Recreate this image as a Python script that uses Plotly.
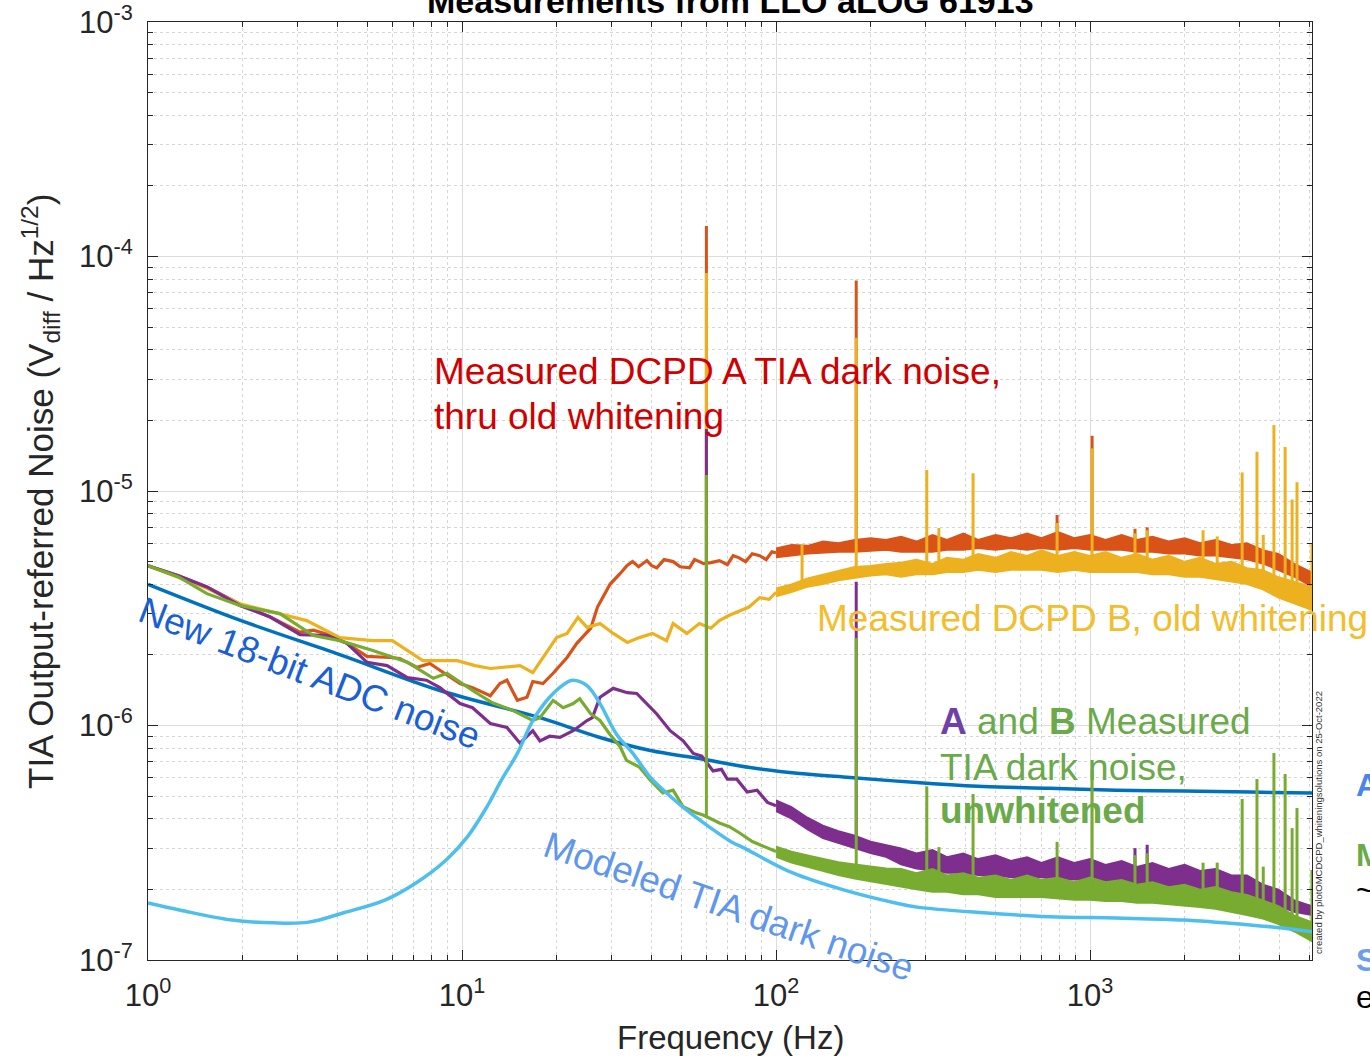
import math
import plotly.graph_objects as go

# ---------------- data (frequency in Hz, amplitude in uV/rtHz) ----------------
adc_f = [1.0, 1.98, 4.1, 8.5, 17.7, 27.5, 39.8, 57.0, 82.6, 119.0, 172.0, 281.0, 457.0, 744.0, 1210.0, 1990.0, 3240.0, 5090.0]
adc_uV = [4.0, 2.8, 2.0, 1.41, 1.08, 0.889, 0.782, 0.723, 0.662, 0.624, 0.60, 0.571, 0.549, 0.54, 0.53, 0.525, 0.52, 0.515]

model_f = [1.0, 1.27, 1.85, 2.5, 3.25, 4.2, 5.68, 7.13, 8.9, 10.4, 12.0, 13.4, 15.0, 16.8, 19.0, 21.6, 22.5, 25.0, 27.5, 31.0,
           35.0, 39.8, 44.8, 50.4, 60.0, 72.9, 78.0, 113.0, 164.0, 240.0, 281.0, 457.0, 744.0, 1210.0, 1990.0, 3240.0, 4100.0, 5090.0]
model_uV = [0.175, 0.163, 0.148, 0.144, 0.145, 0.159, 0.18, 0.213, 0.267, 0.335, 0.45, 0.59, 0.76, 1.05, 1.32, 1.53, 1.56, 1.48, 1.24, 0.92,
            0.76, 0.60, 0.515, 0.45, 0.377, 0.316, 0.303, 0.235, 0.199, 0.175, 0.168, 0.159, 0.153, 0.151, 0.148, 0.141, 0.137, 0.132]

orange_f = [1.0, 1.25, 1.54, 1.96, 2.45, 3.05, 3.36, 3.72, 4.3, 4.98, 5.9, 6.33, 7.2, 7.9, 8.5, 9.85, 10.8, 12.3, 13.2, 13.9,
            15.0, 16.1, 16.8, 18.1, 19.5, 21.6, 23.2, 25.7, 27.0, 29.6, 31.9, 33.5, 34.9, 36.5, 38.8, 40.2, 41.7, 44.0, 47.0, 49.5,
            53.0, 55.0, 57.0, 58.8, 62.0, 66.0, 70.0, 73.0, 76.0, 80.0, 84.0, 88.7, 93.0, 97.0, 100.0]
orange_uV = [4.8, 4.35, 3.9, 3.3, 2.9, 2.5, 2.55, 2.45, 2.24, 1.97, 1.95, 1.93, 1.77, 1.84, 1.72, 1.51, 1.45, 1.34, 1.51, 1.56,
             1.28, 1.32, 1.54, 1.51, 1.67, 1.95, 2.24, 2.6, 3.2, 4.0, 4.45, 4.8, 5.0, 4.75, 5.05, 4.8, 4.7, 5.1, 5.0, 4.75,
             4.7, 5.1, 5.0, 4.9, 4.95, 5.05, 4.85, 5.3, 5.2, 5.0, 5.4, 5.3, 5.1, 5.5, 5.45]

yellow_f = [1.0, 1.25, 1.54, 1.96, 2.5, 3.2, 4.08, 5.2, 6.0, 7.5, 9.65, 11.0, 12.3, 13.9, 15.3, 16.8, 18.1, 20.0, 21.6, 23.4,
            25.0, 27.5, 30.3, 33.6, 36.7, 40.4, 44.8, 47.0, 52.0, 57.0, 62.0, 66.0, 71.0, 76.6, 82.0, 88.7, 95.0, 100.0]
yellow_uV = [4.8, 4.3, 3.85, 3.3, 3.03, 2.8, 2.37, 2.3, 2.3, 1.89, 1.89, 1.8, 1.75, 1.77, 1.8, 1.68, 1.95, 2.37, 2.47, 2.89,
             2.62, 2.72, 2.47, 2.26, 2.37, 2.47, 2.3, 2.72, 2.47, 2.72, 2.6, 2.8, 2.95, 3.09, 3.2, 3.51, 3.45, 3.7]

purple_f = [1.0, 1.25, 1.54, 1.96, 2.45, 3.05, 3.72, 4.3, 4.98, 5.77, 6.7, 7.7, 8.5, 9.85, 10.8, 12.3, 13.9, 15.3, 16.8, 17.7,
            19.0, 20.5, 22.6, 25.0, 26.0, 27.5, 30.3, 33.6, 36.0, 38.7, 41.7, 46.0, 50.6, 54.5, 58.0, 63.0, 67.0, 70.0, 75.0, 80.9,
            87.0, 93.9, 100.0]
purple_uV = [4.8, 4.35, 3.9, 3.25, 2.9, 2.44, 2.42, 2.24, 1.86, 1.8, 1.6, 1.56, 1.45, 1.24, 1.19, 1.02, 0.98, 0.84, 0.95, 0.86,
             0.9, 0.89, 0.95, 1.05, 1.08, 1.32, 1.44, 1.38, 1.37, 1.24, 1.12, 0.95, 0.86, 0.76, 0.74, 0.64, 0.65, 0.59, 0.59, 0.52,
             0.53, 0.47, 0.455]

green_f = [1.0, 1.25, 1.54, 1.96, 2.63, 3.36, 4.08, 5.2, 6.7, 8.1, 8.95, 10.8, 12.5, 14.5, 16.8, 17.7, 19.5, 21.0, 22.6, 23.7,
           25.7, 27.5, 29.5, 31.9, 33.4, 36.7, 39.7, 43.6, 47.0, 50.6, 55.7, 58.5, 62.0, 66.0, 71.0, 76.6, 84.0, 94.0, 100.0]
green_uV = [4.8, 4.3, 3.65, 3.25, 3.0, 2.42, 2.3, 2.09, 1.86, 1.59, 1.67, 1.41, 1.25, 1.16, 1.05, 1.08, 1.28, 1.19, 1.24, 1.3,
            1.12, 1.05, 0.92, 0.81, 0.71, 0.665, 0.586, 0.515, 0.53, 0.45, 0.424, 0.415, 0.40, 0.384, 0.37, 0.348, 0.32, 0.30, 0.29]

# dense-noise region: upper / lower envelope of each measured spectrum
band_f = [100, 112, 126, 141, 158, 178, 200, 224, 250, 280, 315, 350, 395, 440, 500, 560, 630, 700, 790, 890,
          1000, 1120, 1260, 1410, 1580, 1780, 2000, 2240, 2510, 2820, 3160, 3550, 3980, 4470, 5090]
orange_hi_uV = [5.7, 5.9, 5.85, 6.1, 6.0, 6.2, 6.3, 6.2, 6.4, 6.1, 6.5, 6.2, 6.6, 6.2, 6.5, 6.3, 6.6, 6.3, 6.7, 6.3,
                6.5, 6.2, 6.5, 6.2, 6.4, 6.1, 6.3, 6.0, 6.2, 5.9, 6.0, 5.6, 5.4, 4.9, 4.5]
orange_lo_uV = [5.2, 5.3, 5.4, 5.45, 5.5, 5.5, 5.55, 5.6, 5.5, 5.5, 5.5, 5.6, 5.6, 5.7, 5.6, 5.7, 5.6, 5.7, 5.6, 5.7,
                5.6, 5.6, 5.6, 5.5, 5.5, 5.4, 5.4, 5.3, 5.3, 5.2, 5.1, 4.9, 4.6, 4.3, 3.9]
yellow_hi_uV = [3.85, 4.0, 4.25, 4.4, 4.55, 4.75, 4.8, 4.9, 4.95, 5.1, 4.9, 5.2, 5.1, 5.4, 5.2, 5.5, 5.3, 5.6, 5.3, 5.5,
                5.3, 5.5, 5.2, 5.4, 5.1, 5.3, 5.0, 5.2, 4.9, 5.0, 4.7, 4.6, 4.3, 4.1, 3.9]
yellow_lo_uV = [3.55, 3.7, 3.9, 4.0, 4.15, 4.25, 4.35, 4.4, 4.3, 4.4, 4.4, 4.5, 4.5, 4.6, 4.5, 4.6, 4.6, 4.6, 4.5, 4.6,
                4.5, 4.5, 4.5, 4.5, 4.4, 4.4, 4.3, 4.3, 4.2, 4.1, 4.0, 3.8, 3.5, 3.3, 3.1]
purple_hi_uV = [0.48, 0.45, 0.405, 0.375, 0.355, 0.34, 0.32, 0.31, 0.30, 0.285, 0.295, 0.275, 0.285, 0.27, 0.28, 0.265, 0.275, 0.26, 0.275, 0.26,
                0.27, 0.255, 0.265, 0.25, 0.26, 0.245, 0.255, 0.24, 0.245, 0.23, 0.23, 0.21, 0.20, 0.18, 0.17]
purple_lo_uV = [0.43, 0.40, 0.36, 0.33, 0.315, 0.30, 0.285, 0.275, 0.255, 0.245, 0.24, 0.235, 0.235, 0.23, 0.23, 0.225, 0.225, 0.225, 0.22, 0.22,
                0.22, 0.215, 0.215, 0.21, 0.21, 0.205, 0.205, 0.20, 0.20, 0.195, 0.19, 0.18, 0.17, 0.16, 0.155]
green_hi_uV = [0.305, 0.29, 0.28, 0.27, 0.262, 0.256, 0.25, 0.246, 0.245, 0.235, 0.245, 0.23, 0.235, 0.225, 0.23, 0.22, 0.23, 0.22, 0.225, 0.215,
               0.225, 0.215, 0.22, 0.21, 0.215, 0.205, 0.21, 0.20, 0.205, 0.195, 0.19, 0.18, 0.17, 0.155, 0.145]
green_lo_uV = [0.275, 0.26, 0.25, 0.24, 0.23, 0.222, 0.215, 0.21, 0.205, 0.20, 0.195, 0.195, 0.19, 0.19, 0.185, 0.185, 0.185, 0.185, 0.182, 0.18,
               0.18, 0.178, 0.178, 0.175, 0.175, 0.172, 0.17, 0.168, 0.165, 0.16, 0.155, 0.15, 0.142, 0.132, 0.12]

# line spikes: frequency, base and peak
orange_spk_f = [60, 180, 785, 1015, 1390, 1520]
orange_spk_base_uV = [5.0, 6.0, 6.0, 6.0, 6.0, 6.0]
orange_spk_top_uV = [135, 79, 7.9, 17.2, 6.9, 7.0]

yellow_spk_f = [60, 121, 180, 302, 330, 424, 785, 1015, 1390, 1520, 2290, 2540, 3050, 3400, 3560, 3850, 4180, 4400, 4560, 5090]
yellow_spk_base_uV = [2.7, 4.1, 4.6, 4.7, 4.7, 4.9, 4.9, 4.9, 4.9, 4.8, 4.7, 4.6, 4.5, 4.3, 4.2, 4.0, 3.8, 3.6, 3.5, 3.3]
yellow_spk_top_uV = [85, 5.9, 45, 12.3, 6.95, 11.9, 7.3, 15.2, 6.6, 6.8, 6.8, 6.4, 12.0, 14.7, 6.5, 19.1, 15.4, 9.2, 10.9, 6.0]

purple_spk_f = [60, 180, 1390, 1520]
purple_spk_base_uV = [0.72, 0.32, 0.24, 0.24]
purple_spk_top_uV = [18.4, 4.1, 0.30, 0.31]

green_spk_f = [60, 180, 302, 330, 424, 785, 1015, 1390, 1520, 2290, 2540, 3050, 3400, 3560, 3850, 4180, 4400, 4560, 5090]
green_spk_base_uV = [0.41, 0.24, 0.22, 0.22, 0.21, 0.2, 0.2, 0.19, 0.19, 0.18, 0.18, 0.18, 0.17, 0.17, 0.16, 0.15, 0.15, 0.14, 0.13]
green_spk_top_uV = [11.7, 2.36, 0.55, 0.303, 0.51, 0.319, 0.65, 0.28, 0.285, 0.26, 0.26, 0.486, 0.591, 0.25, 0.763, 0.621, 0.365, 0.445, 0.242]

x_tickvals = [1, 10, 100, 1000]
x_ticktext = ["10<sup>0</sup>", "10<sup>1</sup>", "10<sup>2</sup>", "10<sup>3</sup>"]
y_tickvals = [1e-7, 1e-6, 1e-5, 1e-4, 1e-3]
y_ticktext = ["10<sup>-7</sup>", "10<sup>-6</sup>", "10<sup>-5</sup>", "10<sup>-4</sup>", "10<sup>-3</sup>"]
F_MAX = 5090

# ---------------- styling ----------------
C_ADC, C_OR, C_YE, C_PU, C_GR, C_MOD = "#0072BD", "#D95319", "#EDB120", "#7E2F8E", "#77AC30", "#4DBEEE"
FONT = "Liberation Sans, Arial, Helvetica, sans-serif"
AX = "#262626"


def uv(lst):
    return [v * 1e-6 for v in lst]


fig = go.Figure()


def add_line(f, v, color, width=3, shape="linear"):
    fig.add_trace(go.Scatter(x=f, y=uv(v), mode="lines", hoverinfo="skip",
                             line=dict(color=color, width=width, shape=shape)))


def add_band(f, hi, lo, color):
    xs = list(f) + list(f)[::-1]
    ys = uv(hi) + uv(lo)[::-1]
    fig.add_trace(go.Scatter(x=xs, y=ys, mode="lines", fill="toself", fillcolor=color,
                             line=dict(color=color, width=1.5), hoverinfo="skip"))


def add_spikes(f, base, top, color, width=3):
    xs, ys = [], []
    for fi, b, t in zip(f, base, top):
        xs += [fi, fi, None]
        ys += [b * 1e-6, t * 1e-6, None]
    fig.add_trace(go.Scatter(x=xs, y=ys, mode="lines", hoverinfo="skip",
                             line=dict(color=color, width=width)))


add_line(adc_f, adc_uV, C_ADC, 3.5, "spline")
add_line(orange_f, orange_uV, C_OR, 3.2)
add_band(band_f, orange_hi_uV, orange_lo_uV, C_OR)
add_spikes(orange_spk_f, orange_spk_base_uV, orange_spk_top_uV, C_OR)
add_line(yellow_f, yellow_uV, C_YE, 3.2)
add_band(band_f, yellow_hi_uV, yellow_lo_uV, C_YE)
add_spikes(yellow_spk_f, yellow_spk_base_uV, yellow_spk_top_uV, C_YE)
add_line(purple_f, purple_uV, C_PU, 3.2)
add_band(band_f, purple_hi_uV, purple_lo_uV, C_PU)
add_spikes(purple_spk_f, purple_spk_base_uV, purple_spk_top_uV, C_PU)
add_line(green_f, green_uV, C_GR, 3.2)
add_band(band_f, green_hi_uV, green_lo_uV, C_GR)
add_spikes(green_spk_f, green_spk_base_uV, green_spk_top_uV, C_GR)
add_line(model_f, model_uV, C_MOD, 3.5, "spline")

axis_common = dict(
    type="log", showline=True, linecolor=AX, linewidth=1, mirror="ticks",
    ticks="inside", ticklen=10, tickwidth=1, tickcolor=AX,
    showgrid=True, gridcolor="#dddddd", gridwidth=1, zeroline=False, automargin=False,
    tickfont=dict(family=FONT, size=31, color=AX), ticklabeloverflow="allow",
    minor=dict(ticks="inside", ticklen=5, tickwidth=1, tickcolor=AX, dtick="D1",
               showgrid=True, gridcolor="#d6d6d6", griddash="dot", gridwidth=1),
)
fig.update_xaxes(range=[-0.0001, math.log10(F_MAX)], tickmode="array", tickvals=x_tickvals, ticktext=x_ticktext,
                 ticklabelstandoff=8, **axis_common)
fig.update_yaxes(range=[-7.0001, -2.9999], tickmode="array", tickvals=y_tickvals, ticktext=y_ticktext,
                 ticklabelstandoff=8, **axis_common)

W, H = 1370, 1057
L, R, T, B = 148, 58, 22, 97
PW, PH = W - L - R, H - T - B


def px(x):
    return (x - L) / PW


def py(y):
    return (H - B - y) / PH


ann = []


def text(x, y, s, size=37, color="black", xanchor="left", yanchor="middle", angle=0, bold=False):
    if bold:
        s = "<b>" + s + "</b>"
    ann.append(dict(x=px(x), y=py(y), xref="paper", yref="paper", text=s, showarrow=False,
                    xanchor=xanchor, yanchor=yanchor, textangle=angle,
                    font=dict(family=FONT, size=size, color=color)))


text(730, 22, "Measurements from LLO aLOG 61913", size=34, color="black", xanchor="center", yanchor="bottom", bold=True)
text(730, 1037, "Frequency (Hz)", size=33, color=AX, xanchor="center")
text(40, 492, "TIA Output-referred Noise (V<sub>diff</sub> / Hz<sup>1/2</sup>)", size=35, color=AX,
     xanchor="center", angle=-90)

text(432, 372, "Measured DCPD A TIA dark noise,", color="#D00000")
text(432, 416, "thru old whitening", color="#D00000")
text(815, 618, "Measured DCPD B, old whitening", color="#F2BE2E")
text(938, 721, '<b><span style="color:#7040A8">A</span></b> and <b>B</b> Measured', color="#6AAA4A")
text(938, 767, "TIA dark noise,", color="#6AAA4A")
text(938, 811, "unwhitened", color="#6AAA4A", bold=True)
text(310, 673, "New 18-bit ADC noise", color="#1A5FD6", xanchor="center", angle=21)
text(729, 906, "Modeled TIA dark noise", color="#5F97EE", xanchor="center", angle=19)
text(1318, 823, "created by plotOMCDCPD_whiteningsolutions on 25-Oct-2022", size=9.5, color="#333333",
     xanchor="center", angle=-90)

text(1354, 785, "A", size=32, color="#4A86E8", bold=True)
text(1354, 855, "M", size=32, color="#6AAA4A", bold=True)
text(1354, 890, "~", size=32, color="black")
text(1354, 960, "S", size=32, color="#6D9EEB", bold=True)
text(1354, 997, "e", size=32, color="black")

fig.update_layout(width=W, height=H, margin=dict(l=L, r=R, t=T, b=B, autoexpand=False),
                  paper_bgcolor="white", plot_bgcolor="white", showlegend=False,
                  annotations=ann)

# remove the browser's default 8px page margin so the figure fills the window exactly
fig.write_html("out.html", config={"displayModeBar": False},
               post_script="document.body.style.margin='0';")
